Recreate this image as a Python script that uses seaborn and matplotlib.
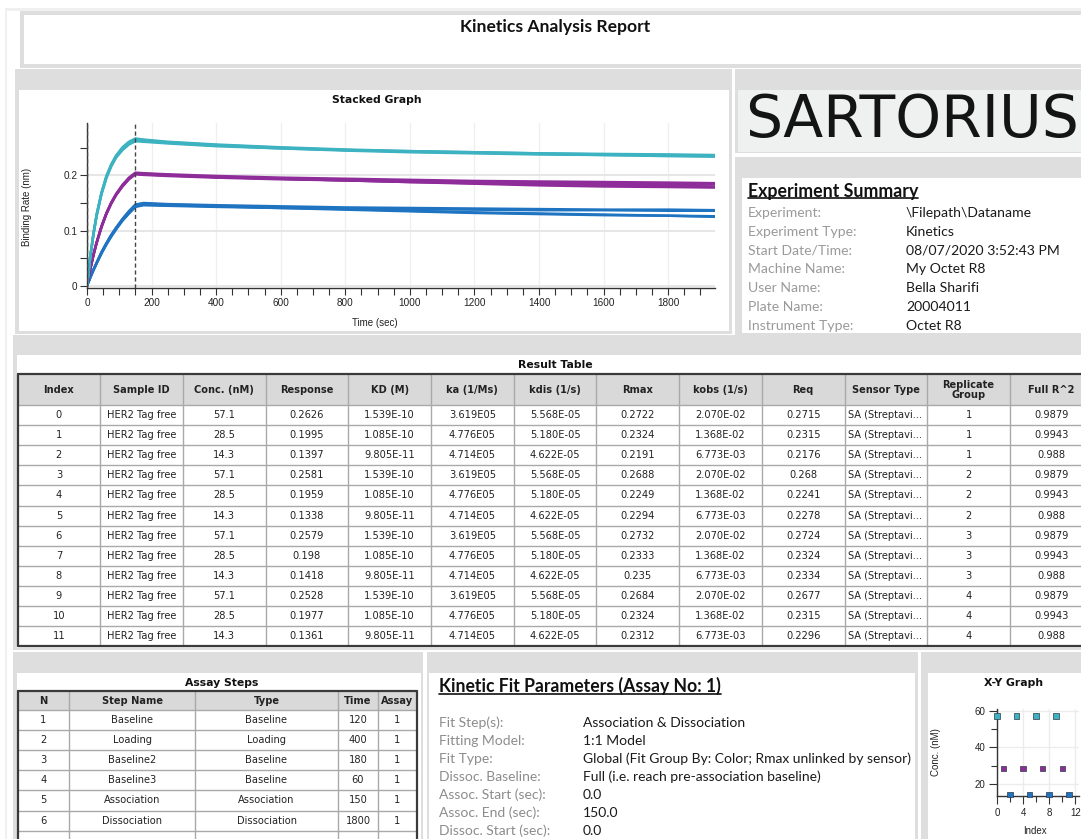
import numpy as np
import pandas as pd
import matplotlib
matplotlib.use("Agg")
import matplotlib.pyplot as plt
import seaborn as sns
from matplotlib.patches import Rectangle
from matplotlib.lines import Line2D
from matplotlib.ticker import MultipleLocator, FuncFormatter

# ---------------- data ----------------
time_s = [0, 10, 20, 30, 45, 60, 75, 90, 110, 130, 150, 175, 250, 400, 600, 800, 1000, 1200, 1400, 1600, 1800, 1945]

cyan_r1 = [0, 0.052, 0.095, 0.130, 0.169, 0.199, 0.220, 0.236, 0.251, 0.261, 0.267, .265, .261, .256, .251, .247, .244, .242, .240, .238, .237, .236]
cyan_r2 = [0, 0.052, 0.094, 0.128, 0.167, 0.196, 0.218, 0.234, 0.248, 0.258, 0.264, .263, .259, .254, .249, .246, .243, .241, .239, .237, .236, .235]
cyan_r3 = [0, 0.052, 0.094, 0.129, 0.169, 0.198, 0.219, 0.235, 0.250, 0.260, 0.266, .264, .260, .255, .250, .246, .244, .242, .240, .239, .238, .237]
cyan_r4 = [0, 0.051, 0.093, 0.127, 0.166, 0.195, 0.216, 0.232, 0.246, 0.256, 0.262, .261, .258, .253, .249, .245, .242, .240, .238, .237, .235, .234]
mag_r1 = [0, 0.030, 0.056, 0.079, 0.108, 0.132, 0.151, 0.166, 0.183, 0.196, 0.205, .204, .202, .199, .196, .194, .192, .190, .189, .188, .187, .186]
mag_r2 = [0, 0.030, 0.056, 0.078, 0.106, 0.130, 0.149, 0.164, 0.180, 0.193, 0.202, .201, .199, .196, .193, .191, .189, .187, .186, .185, .184, .184]
mag_r3 = [0, 0.030, 0.056, 0.079, 0.108, 0.131, 0.150, 0.166, 0.182, 0.195, 0.204, .203, .201, .197, .194, .191, .188, .185, .182, .180, .179, .178]
mag_r4 = [0, 0.030, 0.056, 0.078, 0.107, 0.130, 0.149, 0.165, 0.181, 0.194, 0.203, .202, .200, .197, .194, .191, .188, .186, .184, .182, .181, .180]
blue_r1 = [0, 0.015, 0.029, 0.042, 0.061, 0.077, 0.092, 0.105, 0.121, 0.135, 0.147, .150, .148, .146, .144, .142, .141, .140, .139, .138, .138, .137]
blue_r2 = [0, 0.015, 0.028, 0.041, 0.059, 0.075, 0.089, 0.102, 0.118, 0.131, 0.143, .146, .145, .143, .141, .140, .139, .138, .137, .137, .136, .136]
blue_r3 = [0, 0.015, 0.029, 0.042, 0.061, 0.077, 0.092, 0.105, 0.121, 0.135, 0.147, .149, .147, .145, .142, .139, .136, .133, .131, .129, .127, .126]
blue_r4 = [0, 0.015, 0.029, 0.041, 0.059, 0.075, 0.090, 0.103, 0.119, 0.132, 0.144, .147, .146, .144, .141, .138, .135, .132, .130, .128, .127, .125]

# traces in result-table index order
traces = [cyan_r1, mag_r1, blue_r1, cyan_r2, mag_r2, blue_r2,
          cyan_r3, mag_r3, blue_r3, cyan_r4, mag_r4, blue_r4]

idx_col = ["0", "1", "2", "3", "4", "5", "6", "7", "8", "9", "10", "11"]
sample_col = ["HER2 Tag free"] * 12
conc_col = ["57.1", "28.5", "14.3"] * 4
response_col = ["0.2626", "0.1995", "0.1397", "0.2581", "0.1959", "0.1338",
                "0.2579", "0.198", "0.1418", "0.2528", "0.1977", "0.1361"]
kd_col = ["1.539E-10", "1.085E-10", "9.805E-11"] * 4
ka_col = ["3.619E05", "4.776E05", "4.714E05"] * 4
kdis_col = ["5.568E-05", "5.180E-05", "4.622E-05"] * 4
rmax_col = ["0.2722", "0.2324", "0.2191", "0.2688", "0.2249", "0.2294",
            "0.2732", "0.2333", "0.235", "0.2684", "0.2324", "0.2312"]
kobs_col = ["2.070E-02", "1.368E-02", "6.773E-03"] * 4
req_col = ["0.2715", "0.2315", "0.2176", "0.268", "0.2241", "0.2278",
           "0.2724", "0.2324", "0.2334", "0.2677", "0.2315", "0.2296"]
sensor_col = ["SA (Streptavi..."] * 12
group_col = ["1", "1", "1", "2", "2", "2", "3", "3", "3", "4", "4", "4"]
r2_col = ["0.9879", "0.9943", "0.988"] * 4
result_headers = ["Index", "Sample ID", "Conc. (nM)", "Response", "KD (M)", "ka (1/Ms)",
                  "kdis (1/s)", "Rmax", "kobs (1/s)", "Req", "Sensor Type",
                  "Replicate\nGroup", "Full R^2"]

step_n = ["1", "2", "3", "4", "5", "6"]
step_name = ["Baseline", "Loading", "Baseline2", "Baseline3", "Association", "Dissociation"]
step_type = ["Baseline", "Loading", "Baseline", "Baseline", "Association", "Dissociation"]
step_time = ["120", "400", "180", "60", "150", "1800"]
step_assay = ["1", "1", "1", "1", "1", "1"]
step_headers = ["N", "Step Name", "Type", "Time", "Assay"]

summary_labels = ["Experiment:", "Experiment Type:", "Start Date/Time:", "Machine Name:",
                  "User Name:", "Plate Name:", "Instrument Type:"]
summary_values = ["\\Filepath\\Dataname", "Kinetics", "08/07/2020 3:52:43 PM", "My Octet R8",
                  "Bella Sharifi", "20004011", "Octet R8"]

fit_labels = ["Fit Step(s):", "Fitting Model:", "Fit Type:", "Dissoc. Baseline:",
              "Assoc. Start (sec):", "Assoc. End (sec):", "Dissoc. Start (sec):"]
fit_values = ["Association & Dissociation", "1:1 Model",
              "Global (Fit Group By: Color; Rmax unlinked by sensor)",
              "Full (i.e. reach pre-association baseline)", "0.0", "150.0", "0.0"]

conc_levels = [57.1, 28.5, 14.3]
palette = {57.1: "#3db2c1", 28.5: "#8e2c99", 14.3: "#1f74c2"}

# ---------------- figure ----------------
sns.set_theme(style="white")
plt.rcParams['font.family'] = ['DejaVu Sans']

W, H = 1081, 839
fig = plt.figure(figsize=(W / 100, H / 100), dpi=100)
fig.patch.set_facecolor("white")
bg = fig.add_axes([0, 0, 1, 1])
bg.set_xlim(0, W)
bg.set_ylim(H, 0)
bg.axis("off")

GRAY = "#dedede"
CAL = "Lato"
TFS = 7.1   # table font size


def rect(x0, y0, x1, y1, fc, ec="none", lw=0, z=1):
    bg.add_patch(Rectangle((x0, y0), x1 - x0, y1 - y0, facecolor=fc,
                           edgecolor=ec, linewidth=lw, zorder=z))


def hline(x0, x1, y, c, lw, z=3):
    bg.add_line(Line2D([x0, x1], [y, y], color=c, linewidth=lw, zorder=z))


def vline(x, y0, y1, c, lw, z=3):
    bg.add_line(Line2D([x, x], [y0, y1], color=c, linewidth=lw, zorder=z))


def px_axes(x0, y0, x1, y1):
    return fig.add_axes([x0 / W, 1 - y1 / H, (x1 - x0) / W, (y1 - y0) / H])


# frame pieces
rect(5, 8, W, 11, "#f0f0f0")
rect(5, 8, 7, H, "#f0f0f0")
# title box
rect(20, 11, W + 5, 68, GRAY)
rect(24, 15, W + 5, 64, "white")
bg.text(555, 27, "Kinetics Analysis Report", ha="center", va="center",
        fontsize=12.6, fontweight="bold", family=CAL, color="#111", zorder=5)

# stacked graph panel
rect(15, 69, 732, 334, GRAY)
rect(19, 90, 729, 331, "white")
bg.text(377, 100, "Stacked Graph", ha="center", va="center", fontsize=7.8,
        fontweight="bold", color="#111", zorder=5)
bg.text(27, 207, "Binding Rate (nm)", ha="center", va="center", rotation=90,
        fontsize=7, family="Liberation Sans", color="#222", zorder=5)
bg.text(375, 323, "Time (sec)", ha="center", va="center",
        fontsize=7, family="Liberation Sans", color="#222", zorder=5)

# logo panel
rect(735, 69, W + 5, 153, GRAY)
rect(738, 90, W + 5, 152, "#eff0f0")
bg.text(745, 121, "SARTORIUS", ha="left", va="center", fontsize=42,
        color="#141414", zorder=5)

# summary panel
rect(735, 157, W + 5, 335, GRAY)
rect(742, 178, W + 5, 333, "white")
t_sum = bg.text(748, 191, "Experiment Summary", ha="left", va="center",
                fontsize=12.8, fontweight="bold", family=CAL, color="#111", zorder=5)
for i, (lab, val) in enumerate(zip(summary_labels, summary_values)):
    y = 212.7 + i * 18.9
    bg.text(748, y, lab, ha="left", va="center", fontsize=10.1, family=CAL,
            color="#9a9a9a", zorder=5)
    bg.text(906, y, val, ha="left", va="center", fontsize=10.1, family=CAL,
            color="#1a1a1a", zorder=5)

# result table panel
rect(13, 335, W + 5, 650, GRAY)
rect(17, 355, W + 5, 648, "white")
bg.text(555, 365, "Result Table", ha="center", va="center", fontsize=7.8,
        fontweight="bold", color="#111", zorder=5)

tx0, ty0, ty_head, row_h = 17.5, 374, 405, 20.1
col_w = 82.7
ncol = len(result_headers)
rect(tx0, ty0, W + 5, ty_head, "#d9d9d9", z=2)
result_cols = [idx_col, sample_col, conc_col, response_col, kd_col, ka_col, kdis_col,
               rmax_col, kobs_col, req_col, sensor_col, group_col, r2_col]
for c in range(ncol):
    xl = tx0 + c * col_w
    xc = xl + col_w / 2
    if c > 0:
        vline(xl, ty0, ty0 + (ty_head - ty0) + 12 * row_h, "#a9a9a9", 1.0)
    bg.text(xc, (ty0 + ty_head) / 2 + 0.5, result_headers[c], ha="center", va="center",
            fontsize=TFS, fontweight="bold", color="#222", zorder=5, linespacing=1.0)
    for r in range(12):
        yc = ty_head + (r + 0.5) * row_h
        if c == 10:
            bg.text(xl + 3, yc, result_cols[c][r], ha="left", va="center",
                    fontsize=TFS, color="#222", zorder=5)
        else:
            bg.text(xc, yc, result_cols[c][r], ha="center", va="center",
                    fontsize=TFS, color="#222", zorder=5)
for r in range(13):
    hline(tx0, W + 5, ty_head + r * row_h, "#a9a9a9", 1.0)
tb = ty_head + 12 * row_h
hline(tx0, W + 5, ty0, "#3a3a3a", 1.6, z=4)
hline(tx0, W + 5, tb, "#3a3a3a", 1.6, z=4)
vline(tx0, ty0, tb, "#3a3a3a", 1.6, z=4)

# bottom panels
rect(13, 652, 423, H + 5, GRAY)
rect(17, 673, 421, H + 5, "white")
rect(427, 652, 918, H + 5, GRAY)
rect(429, 673, 915, H + 5, "white")
rect(921, 652, W + 5, H + 5, GRAY)
rect(928, 673, W + 5, H + 5, "white")

# assay steps
bg.text(222, 683, "Assay Steps", ha="center", va="center", fontsize=7.8,
        fontweight="bold", color="#111", zorder=5)
sx = [18, 69, 195, 338, 378, 417]
sy0, sy_head, srow = 691, 710, 20.1
rect(sx[0], sy0, sx[-1], sy_head, "#d9d9d9", z=2)
step_cols = [step_n, step_name, step_type, step_time, step_assay]
for c in range(5):
    xc = (sx[c] + sx[c + 1]) / 2
    if c > 0:
        vline(sx[c], sy0, H + 5, "#a9a9a9", 1.0)
    bg.text(xc, (sy0 + sy_head) / 2 + 0.5, step_headers[c], ha="center", va="center",
            fontsize=TFS, fontweight="bold", color="#222", zorder=5)
    for r in range(6):
        bg.text(xc, sy_head + (r + 0.5) * srow, step_cols[c][r], ha="center",
                va="center", fontsize=TFS, color="#222", zorder=5)
for r in range(8):
    hline(sx[0], sx[-1], sy_head + r * srow, "#a9a9a9", 1.0)
hline(sx[0], sx[-1], sy0, "#3a3a3a", 1.6, z=4)
vline(sx[0], sy0, H + 5, "#3a3a3a", 1.6, z=4)
vline(sx[-1], sy0, H + 5, "#3a3a3a", 1.6, z=4)

# kinetic fit parameters
t_fit = bg.text(439, 686, "Kinetic Fit Parameters (Assay No: 1)", ha="left", va="center",
                fontsize=12.7, fontweight="bold", family=CAL, color="#111", zorder=5)
for i, (lab, val) in enumerate(zip(fit_labels, fit_values)):
    y = 723 + i * 18
    bg.text(439, y, lab, ha="left", va="center", fontsize=10.0, family=CAL,
            color="#8c8c8c", zorder=5)
    bg.text(583, y, val, ha="left", va="center", fontsize=10.0, family=CAL,
            color="#1a1a1a", zorder=5)

# X-Y graph labels
bg.text(1014, 683, "X-Y Graph", ha="center", va="center", fontsize=7.8,
        fontweight="bold", color="#111", zorder=5)
bg.text(936, 752, "Conc. (nM)", ha="center", va="center", rotation=90,
        fontsize=7, family="Liberation Sans", color="#222", zorder=5)
bg.text(1035, 831, "Index", ha="center", va="center",
        fontsize=7, family="Liberation Sans", color="#222", zorder=5)

# ---------------- stacked graph ----------------
rows = []
for i, tr in enumerate(traces):
    for t, v in zip(time_s, tr):
        rows.append({"Time": t, "Response": v, "Conc": conc_levels[i % 3], "Trace": i})
df = pd.DataFrame(rows)

ax = px_axes(87, 123, 715, 288)
ax.set_facecolor("none")
sns.lineplot(data=df, x="Time", y="Response", hue="Conc", units="Trace", estimator=None,
             palette=palette, linewidth=1.8, legend=False, sort=False, ax=ax)
ax.set_xlim(0, 1945)
ax.set_ylim(-0.004, 0.295)
ax.xaxis.set_major_locator(MultipleLocator(200))
ax.xaxis.set_minor_locator(MultipleLocator(50))
ax.yaxis.set_major_locator(MultipleLocator(0.1))
ax.yaxis.set_minor_locator(MultipleLocator(0.05))
ax.yaxis.set_major_formatter(FuncFormatter(lambda v, p: "0" if abs(v) < 1e-9 else f"{v:g}"))
ax.grid(True, which="major", axis="y", color="#e4e4e4", linewidth=1.3, zorder=0)
ax.grid(True, which="major", axis="x", color="#efefef", linewidth=0.9, zorder=0)
ax.set_axisbelow(True)
for s in ["top", "right"]:
    ax.spines[s].set_visible(False)
for s in ["left", "bottom"]:
    ax.spines[s].set_color("#333")
    ax.spines[s].set_linewidth(1.0)
ax.tick_params(which="major", direction="out", length=5, width=0.8, color="#333",
               labelsize=7.2, labelcolor="#222", pad=2, left=True, bottom=True)
ax.tick_params(which="minor", direction="out", length=5, width=0.8, color="#333",
               left=True, bottom=True)
for lbl in ax.get_xticklabels() + ax.get_yticklabels():
    lbl.set_family("Liberation Sans")
ax.set_xlabel("")
ax.set_ylabel("")
for xv in [0, 150]:
    ax.axvline(xv, color="#444", linestyle=(0, (3, 2)), linewidth=1.0, zorder=4)

# ---------------- X-Y graph ----------------
xy_df = pd.DataFrame({"Index": [int(v) for v in idx_col],
                      "Conc": [float(v) for v in conc_col]})
ax2 = px_axes(996.7, 709, 1078.6, 796.4)
ax2.set_facecolor("none")
sns.scatterplot(data=xy_df, x="Index", y="Conc", hue="Conc", palette=palette, marker="s",
                s=16, edgecolor="#2a3a4a", linewidth=0.5, legend=False, ax=ax2,
                clip_on=False, zorder=5)
ax2.set_xlim(-0.05, 12.5)
ax2.set_ylim(13.2, 61)
ax2.xaxis.set_major_locator(MultipleLocator(4))
ax2.xaxis.set_minor_locator(MultipleLocator(2))
ax2.yaxis.set_major_locator(MultipleLocator(20))
ax2.yaxis.set_minor_locator(MultipleLocator(10))
ax2.grid(True, which="major", color="#ececec", linewidth=1.0, zorder=0)
ax2.set_axisbelow(True)
for s in ["top", "right"]:
    ax2.spines[s].set_visible(False)
for s in ["left", "bottom"]:
    ax2.spines[s].set_color("#333")
    ax2.spines[s].set_linewidth(1.0)
ax2.tick_params(which="major", direction="out", length=6, width=0.8, color="#333",
                labelsize=7, labelcolor="#222", pad=2, left=True, bottom=True)
ax2.tick_params(which="minor", direction="out", length=4, width=0.8, color="#333",
                left=True, bottom=True)
for lbl in ax2.get_xticklabels() + ax2.get_yticklabels():
    lbl.set_family("Liberation Sans")
ax2.set_xlabel("")
ax2.set_ylabel("")

# underlines for headings
fig.canvas.draw()
inv = bg.transData.inverted()
for t in [t_sum, t_fit]:
    bb = t.get_window_extent()
    (x0, y0), (x1, y1) = inv.transform([(bb.x0, bb.y0), (bb.x1, bb.y1)])
    hline(x0, x1, max(y0, y1) - 1.5, "#111", 1.2, z=6)

fig.savefig("out.png", dpi=100, facecolor="white")
